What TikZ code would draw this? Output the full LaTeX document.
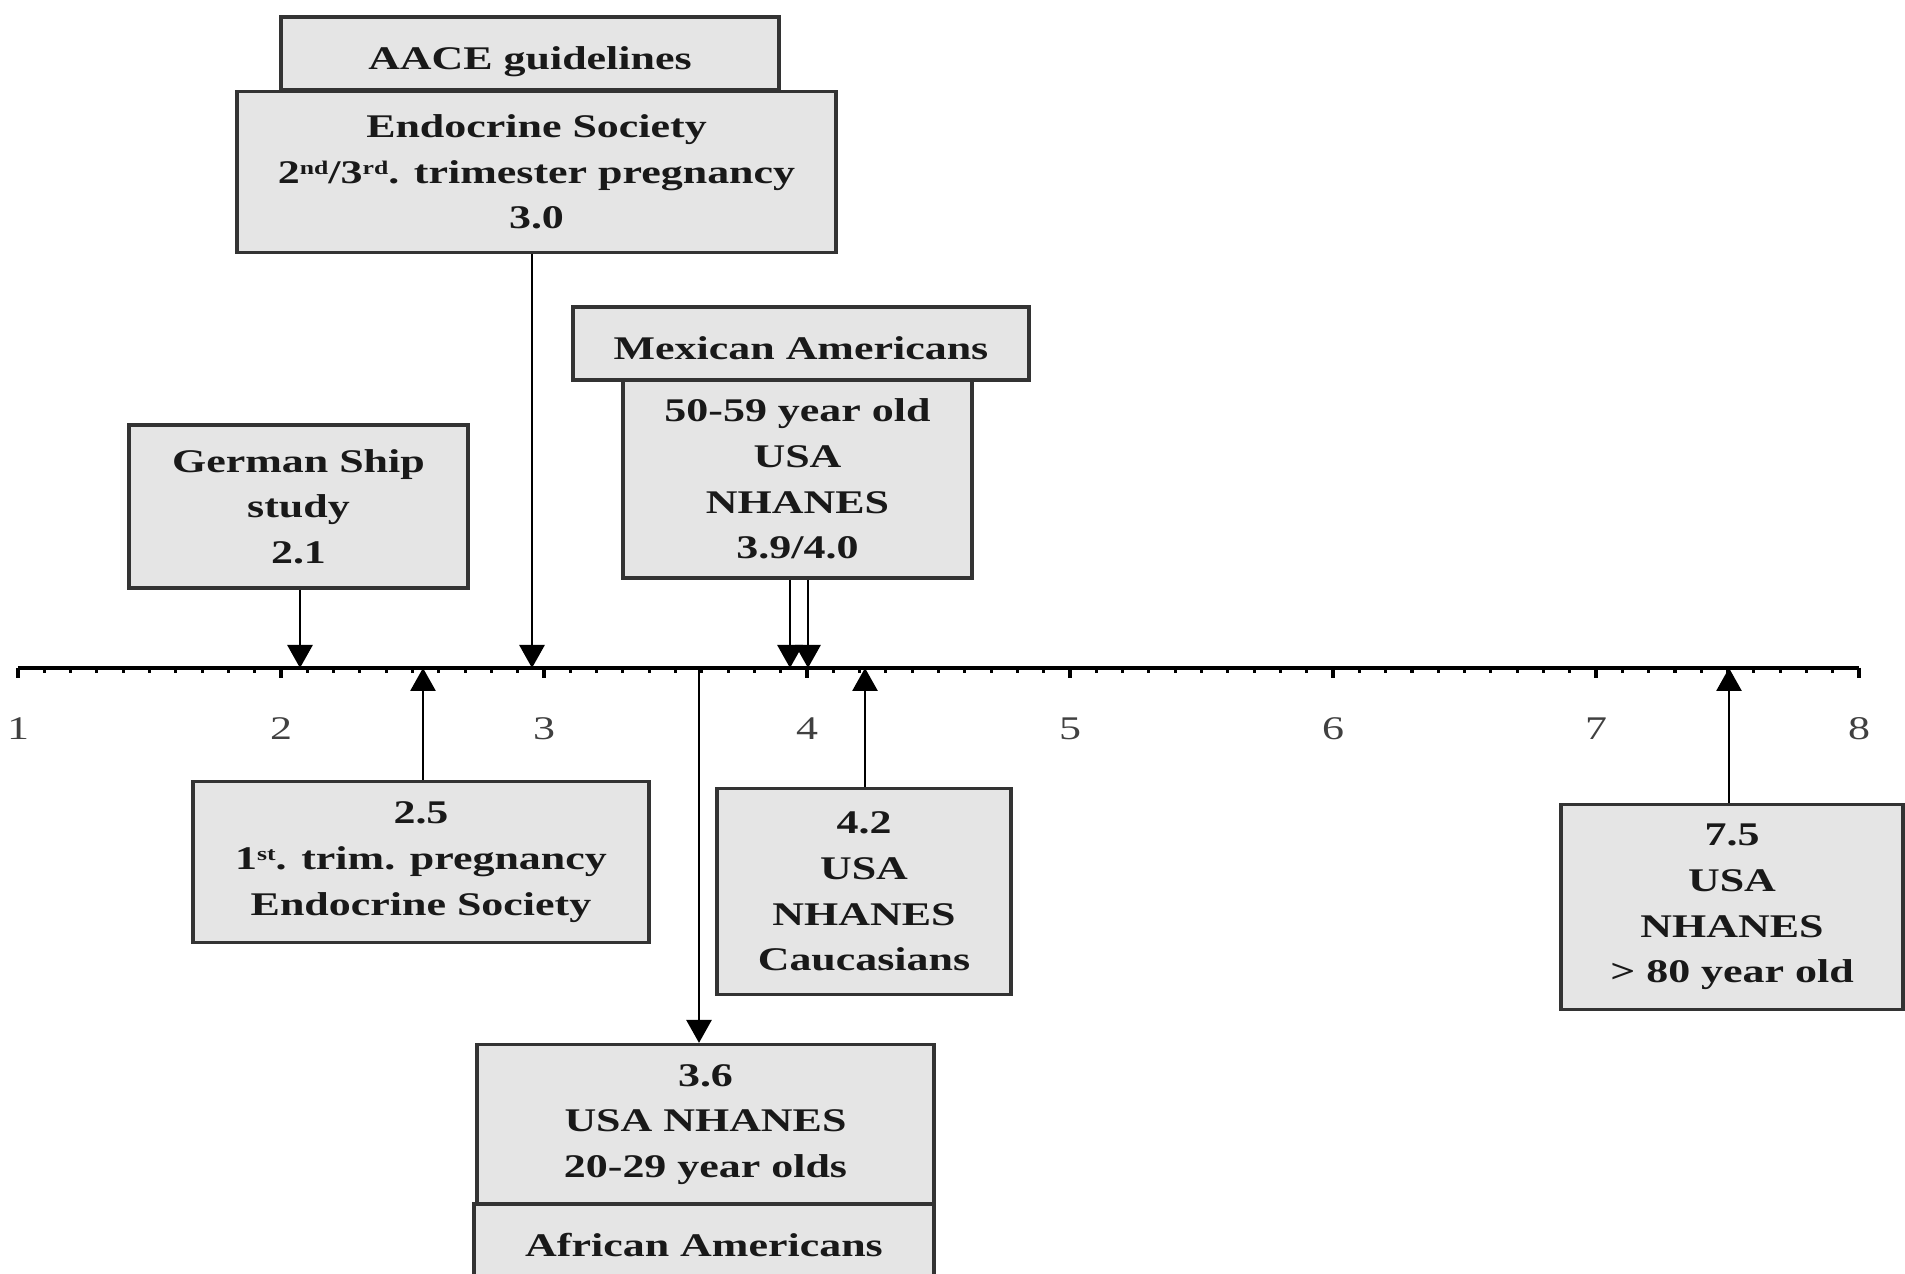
\documentclass[tikz,border=0pt]{standalone}
\usepackage{fontspec}
\newfontfamily\boxfont{Liberation Serif}[FakeStretch=1.33]
\usetikzlibrary{arrows.meta}
\newcommand\ordsup[1]{\raisebox{0.6ex}{\fontsize{5.5}{5.5}\selectfont #1}}
\tikzset{
  box/.style={draw=black!80, fill=black!10, line width=0.9pt, align=center, inner sep=0pt,
    font=\boxfont\bfseries\fontsize{9.4}{13}\selectfont, text=black!90},
  tab/.style={box, text height=#1, text depth=0.1cm},
  arr/.style={-{Triangle[width=0.25cm,length=0.23cm]}, line width=0.8pt},
  num/.style={font=\boxfont\fontsize{9.4}{12}\selectfont, text=black!75},
}

\begin{document}
\begin{tikzpicture}
		%%%%% AXIS %%%%%
		\clip (0,0) rectangle (19.05,12.74);
		\draw[line width=0.9pt] (0.18,6.06) -- (18.59,6.06);
		\foreach \i in {0,...,70}{
			\draw[line width=0.9pt] ({0.18+0.263*\i},6.06) -- ++(0,-0.05);
		}
		\foreach \n in {1,...,8}{
			\draw[line width=0.9pt] ({0.18+2.63*(\n-1)},6.06) -- ++(0,-0.1);
			\node[num] (lab\n) at ({0.18+2.63*(\n-1)},5.45) {\n};
		}
		
		\coordinate (p21) at (3.00,6.06);
		\coordinate (p25) at (4.23,6.06);
		\coordinate (p30) at (5.32,6.06);
		\coordinate (p36) at (6.99,6.06);
		\coordinate (p39) at (7.90,6.06);
		\coordinate (p40) at (8.08,6.06);
		\coordinate (p42) at (8.65,6.06);
		\coordinate (p75) at (17.29,6.06);
		
		%%%%% ABOVE %%%%%
		\node[tab=0.43cm, minimum width=4.98cm, minimum height=0.73cm] (aace) at (5.30,12.205) {AACE guidelines};
		\node[box, minimum width=5.99cm, minimum height=1.61cm] (endo) at (5.365,11.02)
			{Endocrine Society\\2\ordsup{nd}/3\ordsup{rd}. trimester pregnancy\\3.0};
		\node[box, minimum width=3.39cm, minimum height=1.63cm] (german) at (2.985,7.675) {German Ship\\study\\2.1};
		\node[tab=0.42cm, minimum width=4.56cm, minimum height=0.73cm] (mexican) at (8.01,9.305) {Mexican Americans};
		\node[box, minimum width=3.49cm, minimum height=1.98cm] (mid) at (7.975,7.95) {50-59 year old\\USA\\NHANES\\3.9/4.0};
		
		\draw[arr] (p21 |- german.south) -- (p21);
		\draw[arr] (p30 |- endo.south) -- (p30);
		\draw[arr] (p39 |- mid.south) -- (p39);
		\draw[arr] (p40 |- mid.south) -- (p40);
		
		%%%%% BELOW %%%%%
		\node[box, minimum width=4.56cm, minimum height=1.61cm] (first) at (4.21,4.12)
			{2.5\\1\ordsup{st}. trim. pregnancy\\Endocrine Society};
		\node[box, minimum width=2.94cm, minimum height=2.06cm] (cauc) at (8.64,3.825) {4.2\\USA\\NHANES\\Caucasians};
		\node[box, minimum width=4.57cm, minimum height=1.60cm] (young) at (7.055,1.495) {3.6\\USA NHANES\\20-29 year olds};
		\node[tab=0.41cm, minimum width=4.60cm, minimum height=0.75cm] (african) at (7.04,0.325) {African Americans};
		\node[box, minimum width=3.42cm, minimum height=2.05cm] (old) at (17.32,3.67) {7.5\\USA\\NHANES\\> 80 year old};
		
		\draw[arr] (p25 |- first.north) -- (p25);
		\draw[arr] (p42 |- cauc.north) -- (p42);
		\draw[arr] (p75 |- old.north) -- (p75);
		\draw[arr] (p36) -- (p36 |- young.north);
\end{tikzpicture}
\end{document}
